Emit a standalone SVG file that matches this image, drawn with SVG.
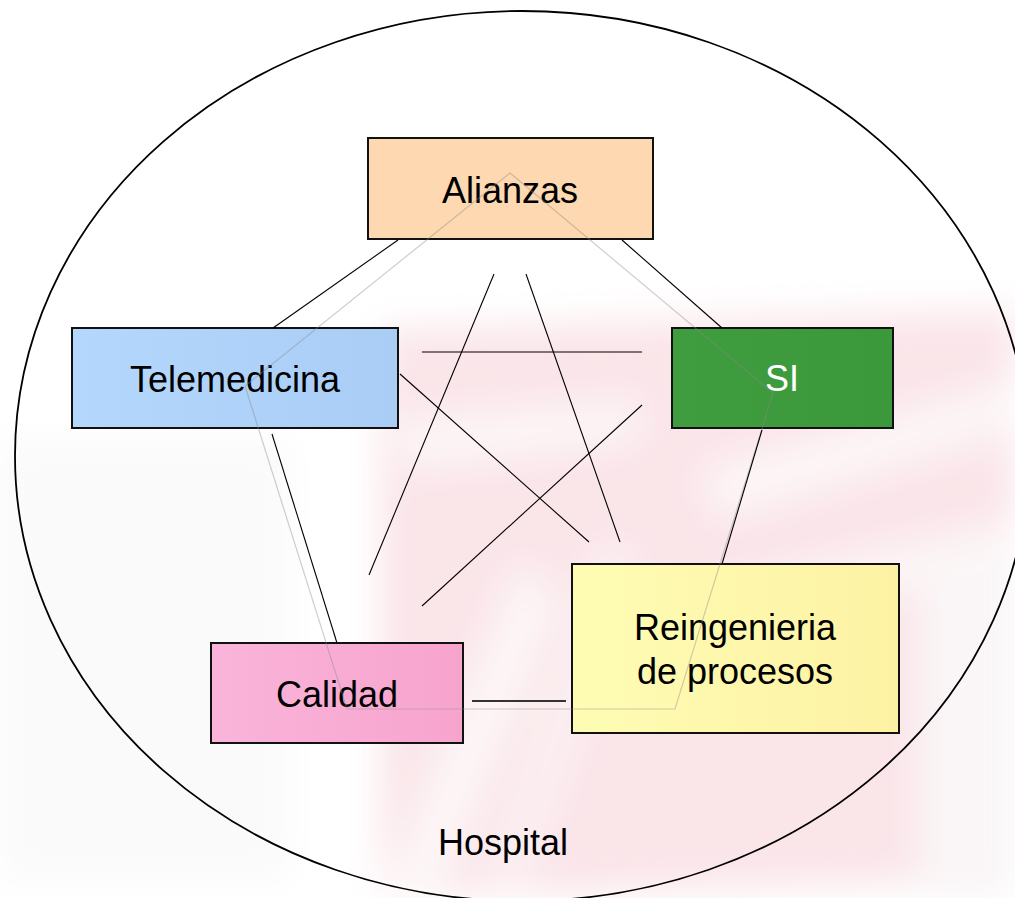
<svg xmlns="http://www.w3.org/2000/svg" width="1015" height="898" viewBox="0 0 1015 898">
  <defs>
    <style>
      .box { stroke: #111111; stroke-width: 2; }
      .lbl { font-family: "Liberation Sans", Arial, sans-serif; font-size: 36px; fill: #000000; text-anchor: middle; }
      .conn { stroke: #000000; stroke-width: 1.1; fill: none; }
      .penta { stroke: #8a8a8a; stroke-opacity: 0.42; stroke-width: 1.2; fill: none; }
    </style>
    <filter id="blur" x="-20%" y="-20%" width="140%" height="140%">
      <feGaussianBlur stdDeviation="18"/>
    </filter>
    <linearGradient id="gTele" x1="0" y1="0" x2="1" y2="0">
      <stop offset="0" stop-color="#b3d7fd"/>
      <stop offset="1" stop-color="#aacdf5"/>
    </linearGradient>
    <linearGradient id="gCal" x1="0" y1="0" x2="1" y2="0">
      <stop offset="0" stop-color="#fab4da"/>
      <stop offset="1" stop-color="#f7a4cd"/>
    </linearGradient>
    <linearGradient id="gRei" x1="0" y1="0" x2="1" y2="0">
      <stop offset="0" stop-color="#fefcb4"/>
      <stop offset="1" stop-color="#fdf2a4"/>
    </linearGradient>
    <linearGradient id="gSI" x1="0" y1="0" x2="1" y2="0">
      <stop offset="0" stop-color="#3f9d3f"/>
      <stop offset="1" stop-color="#3b983b"/>
    </linearGradient>
  </defs>

  <rect x="0" y="0" width="1015" height="898" fill="#ffffff"/>

  <g id="watermark" filter="url(#blur)">
    <polygon points="380,330 1015,310 1015,880 380,898" fill="#fae5e9"/>
    <polygon points="380,898 440,898 560,600 520,560" fill="#fdf6f7"/>
    <polygon points="480,898 520,898 640,560 600,540" fill="#fcf0f2"/>
    <polygon points="700,470 1015,380 1015,430 720,520" fill="#fdf6f7"/>
    <polygon points="660,600 1015,520 1015,560 680,650" fill="#fdf6f7"/>
    <polygon points="390,420 640,400 640,440 410,470" fill="#fdf6f7"/>
    <polygon points="920,560 1015,540 1015,898 920,898" fill="#faf6f7"/>
    <rect x="0" y="440" width="290" height="440" fill="#fafafa"/>
  </g>

  <g id="hospital">
    <ellipse cx="522" cy="456" rx="507" ry="445" fill="none" stroke="#000000" stroke-width="1.8"/>
    <text class="lbl" x="503" y="855">Hospital</text>
  </g>

  <g id="node-alianzas">
    <rect class="box" x="368" y="138" width="285" height="101" fill="#fed8b0"/>
    <text class="lbl" x="510" y="203">Alianzas</text>
  </g>

  <g id="node-telemedicina">
    <rect class="box" x="72" y="328" width="326" height="100" fill="url(#gTele)"/>
    <text class="lbl" x="235" y="392">Telemedicina</text>
  </g>

  <g id="node-si">
    <rect class="box" x="672" y="328" width="221" height="100" fill="url(#gSI)"/>
    <text class="lbl" x="782" y="391" style="fill:#ffffff">SI</text>
  </g>

  <g id="node-reingenieria">
    <rect class="box" x="572" y="564" width="327" height="169" fill="url(#gRei)"/>
    <text class="lbl" x="735" y="640">Reingenieria</text>
    <text class="lbl" x="735" y="684">de procesos</text>
  </g>

  <g id="node-calidad">
    <rect class="box" x="211" y="643" width="252" height="100" fill="url(#gCal)"/>
    <text class="lbl" x="337" y="707">Calidad</text>
  </g>

  <g id="connectors">
    <polygon class="penta" points="510,173 773,393 675,709 347,709 245,386"/>
    <line class="conn" x1="398" y1="240" x2="273" y2="328"/>
    <line class="conn" x1="622" y1="240" x2="722" y2="328"/>
    <line class="conn" x1="494" y1="274" x2="369" y2="575"/>
    <line class="conn" x1="526" y1="274" x2="620" y2="542"/>
    <line class="conn" x1="422" y1="352" x2="642" y2="352"/>
    <line class="conn" x1="400" y1="374" x2="589" y2="542"/>
    <line class="conn" x1="642" y1="405" x2="422" y2="606"/>
    <line class="conn" x1="762" y1="430" x2="722" y2="564"/>
    <line class="conn" x1="272" y1="434" x2="337" y2="643"/>
    <line class="conn" x1="472" y1="701" x2="566" y2="701" style="stroke:#333333;stroke-width:1.8"/>
  </g>
</svg>
